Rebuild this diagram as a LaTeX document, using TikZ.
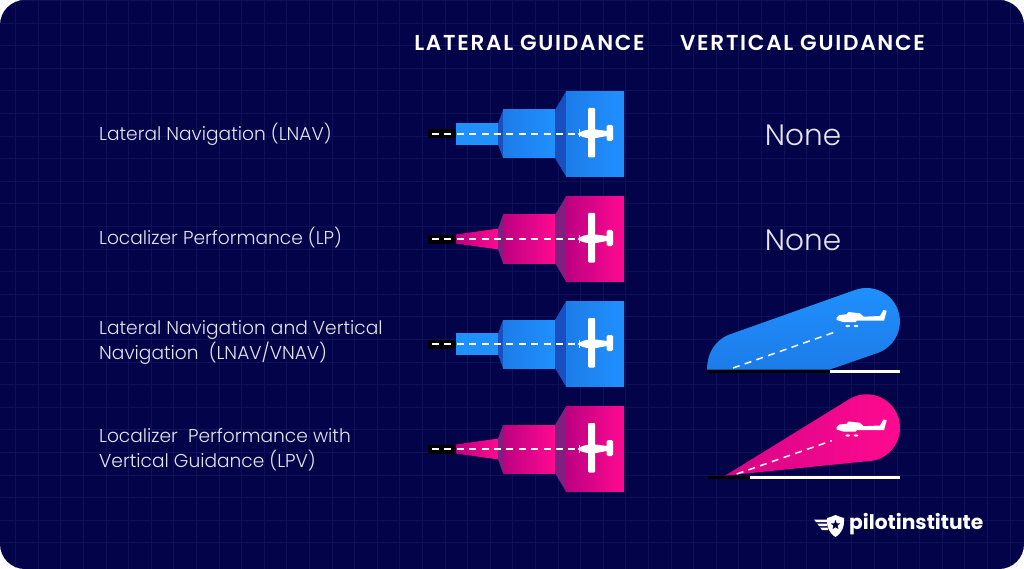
\documentclass[tikz,border=0pt]{standalone}
\usepackage{fontspec}
\setmainfont{Poppins}
\newfontfamily\lightfont{Poppins Light}
\newfontfamily\headfont[LetterSpace=8]{Poppins SemiBold}
\usetikzlibrary{shapes.geometric}
\definecolor{bgnavy}{HTML}{03034A}
\definecolor{gridnavy}{HTML}{0F1156}
\definecolor{blueL}{HTML}{1C7CE8}
\definecolor{blueR}{HTML}{2090FF}
\definecolor{blueD}{HTML}{1A4FC0}
\definecolor{pinkL}{HTML}{BC0082}
\definecolor{pinkR}{HTML}{FF0A90}
\definecolor{pinkD}{HTML}{7F2080}
\definecolor{softwhite}{HTML}{E4E4EE}
\tikzset{
  rowtext/.style={anchor=west,inner sep=0pt,align=left,text=softwhite,font=\fontsize{18.6}{25}\selectfont\lightfont},
  headtext/.style={inner sep=0pt,text=white,font=\fontsize{21.6}{25}\selectfont\headfont},
  nonetext/.style={inner sep=0pt,text=softwhite,font=\fontsize{29.5}{32}\selectfont\lightfont},
  centerdash/.style={white,line width=1.7pt,dash pattern=on 7pt off 5.4pt}
}
\begin{document}
\begin{tikzpicture}[line cap=butt,line join=round,x=1pt,y=-1pt]
\useasboundingbox (0,0) rectangle (1024,569);
\fill[white] (0,0) rectangle (1024,569);
\fill[bgnavy,rounded corners=25pt] (0,0) rectangle (1024,569);
% grid
\begin{scope}
\clip[rounded corners=25pt] (0,0) rectangle (1024,569);
\foreach \x in {0,...,44}
\draw[gridnavy,line width=0.8pt] ({15.6+22.6*\x},0) -- ({15.6+22.6*\x},569);
\foreach \y in {0,...,24}
\draw[gridnavy,line width=0.8pt] (0,{0.4+22.6*\y}) -- (1024,{0.4+22.6*\y});
\end{scope}
% column titles
\node[headtext] (lateralhead) at (529.5,43) {LATERAL GUIDANCE};
\node[headtext] (verticalhead) at (802.5,43) {VERTICAL GUIDANCE};
% row labels
\node[rowtext] (lnavtext) at (99,134) {Lateral Navigation (LNAV)};
\node[rowtext] (lptext) at (99,238) {Localizer Performance (LP)};
\node[rowtext] (vnavtext) at (99,342) {Lateral Navigation and Vertical\\Navigation~ (LNAV/VNAV)};
\node[rowtext] (lpvtext) at (99,450) {Localizer~ Performance with\\Vertical Guidance (LPV)};
\node[nonetext] (noneone) at (803,135) {None};
\node[nonetext] (nonetwo) at (803,240) {None};
% lateral funnels
\foreach \y/\cL/\cR/\cD/\w/\cS in {134/blueL/blueR/blueD/10.4/blueR,239/pinkL/pinkR/pinkD/4.6/pinkL,344/blueL/blueR/blueD/10.4/blueR,449/pinkL/pinkR/pinkD/4.6/pinkL}{
\begin{scope}[shift={(0,\y)}]
\fill[black] (428,-4.5) rectangle (456,4.5);
\fill[left color=\cS,right color=\cR] (456,-\w) -- (498,-10.4) -- (498,10.4) -- (456,\w) -- cycle;
\fill[\cD] (498,-10.4) -- (503,-24) -- (503,24) -- (498,10.4) -- cycle;
\fill[left color=\cL,right color=\cR] (503,-24) rectangle (555,24);
\fill[\cD] (555,-24) -- (566,-42.5) -- (566,42.5) -- (555,24) -- cycle;
\fill[left color=\cL,right color=\cR] (566,-42.5) rectangle (624,42.5);
\draw[centerdash] (432,0) -- (578,0);
% plane from above
\fill[white,rounded corners=1pt] (588,-26) rectangle (595,23.5);
\fill[white] (577.7,0) .. controls (581,-3) and (585,-4) .. (590,-4.5) -- (596,-4.5) -- (607,-3) -- (607,2) -- (596,4) -- (590,4) .. controls (585,4) and (581,3) .. (577.7,0) -- cycle;
\fill[white,rounded corners=1.5pt] (606.5,-9) rectangle (613,7);
\fill[white] (579.3,-4.5) rectangle (580,3.5);
\end{scope}}
% vertical beam, blue
\fill[top color=blueR,bottom color=blueL] (707,369.5) .. controls (707,353) and (715,341) .. (728,335) -- (855,290) arc[start angle=-110,end angle=75,radius=33.5] -- (830,369.5) -- cycle;
\draw[centerdash,line width=1.5pt] (733,368) -- (835,332);
\fill[black] (707,369.5) rectangle (830,372.7);
\fill[white] (830,369.5) rectangle (900,372.7);
% vertical beam, pink
\fill[left color=pinkL!60!pinkR,right color=pinkR] (725,475.7) -- (848.3,399.7) arc[start angle=-123,end angle=78,radius=33.5] -- cycle;
\draw[centerdash,line width=1.5pt] (736.7,474) -- (831.7,440.7);
\fill[black] (708,475.7) rectangle (750,479);
\fill[white] (750,475.7) rectangle (900,479);
% plane from the side
\foreach \y in {0,109.5}{
\begin{scope}[shift={(0,\y)}]
\fill[white] (836.7,317.5) -- (839.5,315) -- (846.5,314.3) -- (848.5,312) -- (860,313.3) -- (863.5,316.7) -- (880,316) -- (883.5,310) -- (886.7,310.7) -- (884,320.7) -- (856.5,320.7) -- (856,322) -- (843,322) -- (836.7,320) -- cycle;
\fill[white] (847.7,326) ellipse (2.4 and 1.1);
\fill[white] (856,326) ellipse (2.4 and 1.1);
\end{scope}}
% logo
\fill[white] (814,519.5) -- (827,519.5) -- (827,522) -- (816,522) -- cycle;
\fill[white] (817,523.5) -- (827,523.5) -- (827,526) -- (819,526) -- cycle;
\fill[white] (820,527.5) -- (827.5,527.5) -- (828,530) -- (822,530) -- cycle;
\fill[white] (827,518) .. controls (831,517) and (833,516) .. (835.5,515) .. controls (838,516) and (840,517) .. (844,518) .. controls (844.5,527) and (842,533) .. (835.5,537) .. controls (829,533) and (826.5,527) .. (827,518) -- cycle;
\node[star,star points=5,star point ratio=2.3,fill=bgnavy,inner sep=0pt,minimum size=10pt] (logostar) at (835.5,525) {};
\node[anchor=west,inner sep=0pt,text=white,font=\fontsize{20.2}{24}\selectfont\bfseries] (logotext) at (849,524) {pilotinstitute};
\end{tikzpicture}
\end{document}
